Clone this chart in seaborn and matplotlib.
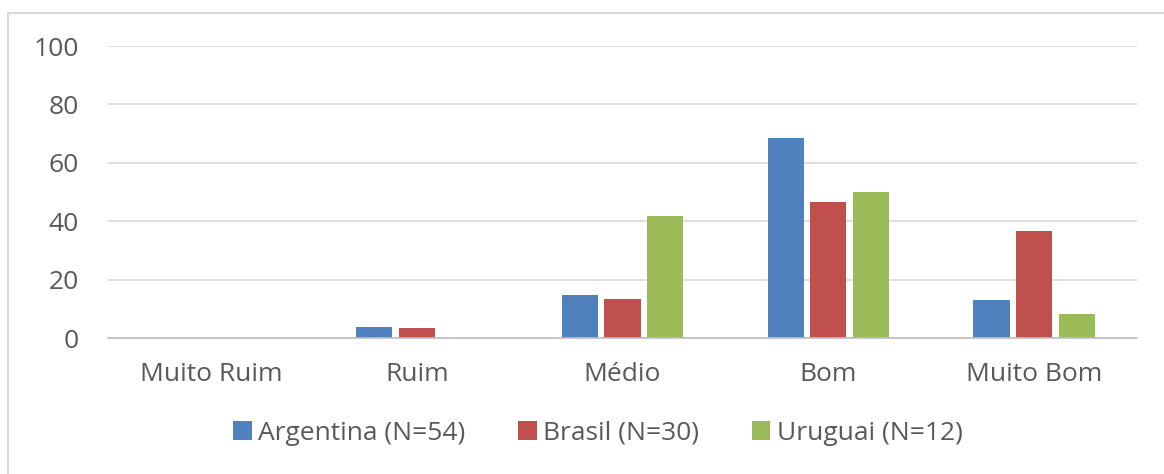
import matplotlib
matplotlib.use("Agg")
import matplotlib.pyplot as plt
from matplotlib.patches import Rectangle
import seaborn as sns
import pandas as pd

categories = ["Muito Ruim", "Ruim", "Médio", "Bom", "Muito Bom"]
argentina = [0.0, 3.7, 14.8, 68.5, 13.0]
brasil = [0.0, 3.3, 13.3, 46.7, 36.7]
uruguai = [0.0, 0.0, 41.7, 50.0, 8.3]
series_names = ["Argentina (N=54)", "Brasil (N=30)", "Uruguai (N=12)"]
colors = ["#4F81BD", "#C0504D", "#9BBB59"]
y_ticks = [0, 20, 40, 60, 80, 100]

rows = []
for name, vals in zip(series_names, [argentina, brasil, uruguai]):
    for cat, v in zip(categories, vals):
        rows.append({"categoria": cat, "pais": name, "valor": v})
df = pd.DataFrame(rows)

sns.set_theme(style="white")
plt.rcParams["font.family"] = ["Open Sans", "DejaVu Sans"]
text_color = "#595959"
fs = 19

fig = plt.figure(figsize=(11.64, 4.74), dpi=100)
ax = fig.add_axes([108 / 1164, 1 - 338 / 474, (1137 - 108) / 1164, (338 - 46) / 474])

sns.barplot(data=df, x="categoria", y="valor", hue="pais", order=categories,
            hue_order=series_names, palette=colors, width=0.62, gap=0.15,
            saturation=1, ax=ax, linewidth=0)

ax.set_ylim(0, 100)
ax.set_xlim(-0.5, len(categories) - 0.5)
ax.set_yticks(y_ticks)
ax.set_yticklabels([str(t) for t in y_ticks])
ax.yaxis.grid(True, color="#D9D9D9", linewidth=1.2)
ax.set_axisbelow(True)
for side in ["top", "right", "left"]:
    ax.spines[side].set_visible(False)
ax.spines["bottom"].set_color("#BFBFBF")
ax.spines["bottom"].set_linewidth(1.2)
ax.tick_params(axis="y", length=0, pad=21, labelsize=fs, labelcolor=text_color)
ax.tick_params(axis="x", length=0, pad=17, labelsize=fs, labelcolor=text_color)
ax.set_xlabel("")
ax.set_ylabel("")

handles, labels = ax.get_legend_handles_labels()
ax.legend(handles, labels, loc="center", bbox_to_anchor=(598 / 1164, (474 - 433) / 474),
          bbox_transform=fig.transFigure, ncol=3, frameon=False, fontsize=fs,
          labelcolor=text_color, handlelength=0.7, handleheight=0.7,
          handletextpad=0.25, columnspacing=2.0)

# outer chart frame
fig.patches.append(Rectangle((8 / 1164, -0.01), 1.1, 1 - 13 / 474 + 0.01,
                             transform=fig.transFigure, fill=False,
                             edgecolor="#D9D9D9", linewidth=1.5))

fig.savefig("out.png", dpi=100, facecolor="white")
